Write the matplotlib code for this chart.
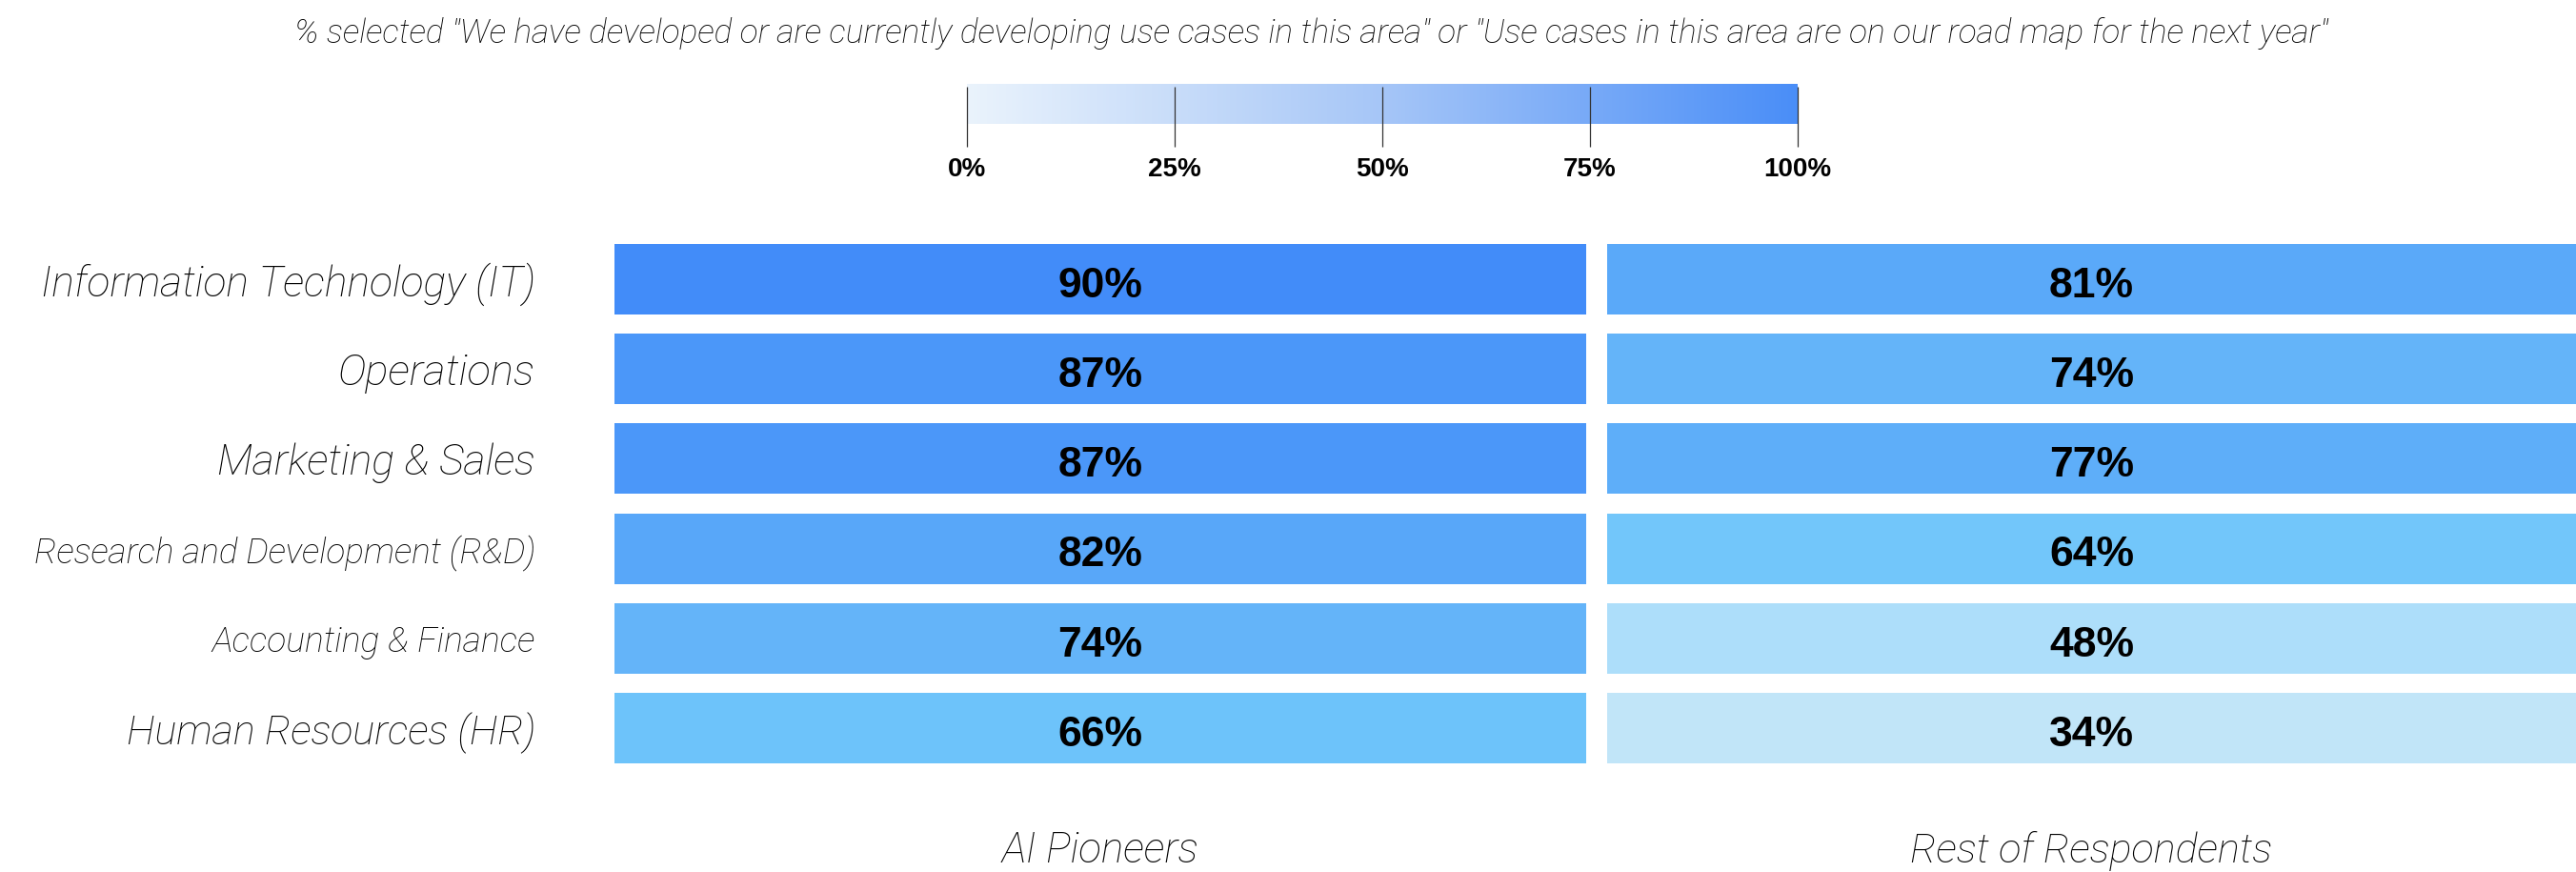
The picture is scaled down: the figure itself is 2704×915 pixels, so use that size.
import numpy as np
import matplotlib
matplotlib.use("Agg")
import matplotlib.pyplot as plt
from matplotlib.colors import LinearSegmentedColormap, Normalize
from matplotlib.transforms import blended_transform_factory

# ---- data -----------------------------------------------------------------
title = ('% selected "We have developed or are currently developing use cases in this area" '
         'or "Use cases in this area are on our road map for the next year"')
functions = ["Information Technology (IT)", "Operations", "Marketing & Sales",
             "Research and Development (R&D)", "Accounting & Finance",
             "Human Resources (HR)"]
groups = ["AI Pioneers", "Rest of Respondents"]
ai_pioneers = [90, 87, 87, 82, 74, 66]
rest_of_respondents = [81, 74, 77, 64, 48, 34]
scale_ticks = [0, 25, 50, 75, 100]

# ---- styling ----------------------------------------------------------------
W, H, DPI = 2704, 915, 100
LIGHT = dict(family=["Roboto", "DejaVu Sans"], style="italic", weight="light")
BOLD = dict(family=["Liberation Sans", "DejaVu Sans"], weight="bold")
TEXT_COLOR = "#000000"

cell_nodes = [(30, "#C8E8F8"), (34, "#C1E5F8"), (48, "#ADDEFA"), (65, "#6EC5FA"),
              (74, "#64B4F9"), (77, "#5EAEF9"), (81.5, "#5AA9F9"), (87, "#4B97F9"),
              (90, "#428CF9"), (100, "#3A80F8")]
cell_norm = Normalize(30, 100)
cell_cmap = LinearSegmentedColormap.from_list(
    "cells", [(float(cell_norm(v)), c) for v, c in cell_nodes])
scale_cmap = LinearSegmentedColormap.from_list(
    "scale", [(0.0, "#EAF3FC"), (0.5, "#A6C6F7"), (1.0, "#4A8EF8")])

fig = plt.figure(figsize=(W / DPI, H / DPI), dpi=DPI)
renderer = fig.canvas.get_renderer()


def px_axes(x0, y0, x1, y1):
    """Axes from a pixel box measured from the top-left corner."""
    return fig.add_axes([x0 / W, 1 - y1 / H, (x1 - x0) / W, (y1 - y0) / H])


def fit_width(txt, target_px):
    w = txt.get_window_extent(renderer).width
    txt.set_fontsize(txt.get_fontsize() * target_px / w)


# ---- title ------------------------------------------------------------------
t = fig.text(1376 / W, 1 - 45 / H, title, ha="center", va="baseline",
             fontsize=26, color=TEXT_COLOR, **LIGHT)
fit_width(t, 2132)

# ---- colour scale -----------------------------------------------------------
cax = px_axes(1015, 88, 1887, 130)
cax.imshow(np.linspace(0, 100, 512)[None, :], cmap=scale_cmap, aspect="auto",
           extent=[0, 100, 0, 1], vmin=0, vmax=100)
cax.set_xlim(0, 100)
cax.set_ylim(0, 1)
cax.vlines(scale_ticks, -0.571, 0.929, color="#333333", lw=0.9, clip_on=False)
cax.set_xticks(scale_ticks, [f"{v}%" for v in scale_ticks])
cax.set_yticks([])
cax.tick_params(axis="x", length=0, pad=25)
for lab in cax.get_xticklabels():
    lab.set_fontsize(20)
    lab.set_fontfamily(BOLD["family"])
    lab.set_fontweight("bold")
for s in cax.spines.values():
    s.set_visible(False)

# ---- heat columns -------------------------------------------------------------
row_h = 74 / 94.2
label_widths = [520, 207, 334, 526, 339, 429]
group_widths = [207, 380]
columns = [(ai_pioneers, (645, 1665)), (rest_of_respondents, (1687, 2704))]
y = np.arange(len(functions))

for k, (values, (x0, x1)) in enumerate(columns):
    ax = px_axes(x0, 245.9, x1, 811.1)
    ax.barh(y, 1, height=row_h, left=0,
            color=[cell_cmap(cell_norm(v)) for v in values])
    ax.set_xlim(0, 1)
    ax.set_ylim(len(functions) - 0.5, -0.5)
    trans = blended_transform_factory(ax.transAxes, ax.transData)
    for yi, v in zip(y, values):
        ax.text(0.5, yi + 0.2, f"{v}%", transform=trans, ha="center",
                va="baseline", fontsize=32, color="black", **BOLD)
    g = ax.text(0.5, -0.166, groups[k], transform=ax.transAxes, ha="center",
                va="baseline", fontsize=30, color=TEXT_COLOR, **LIGHT)
    fit_width(g, group_widths[k])
    ax.set_xticks([])
    if k == 0:
        ax.set_yticks(y, functions)
        ax.tick_params(axis="y", length=0, pad=59.8)
        for lab, wpx in zip(ax.get_yticklabels(), label_widths):
            lab.set_fontfamily(LIGHT["family"])
            lab.set_fontstyle(LIGHT["style"])
            lab.set_fontweight(LIGHT["weight"])
            lab.set_color(TEXT_COLOR)
            lab.set_fontsize(30)
            fit_width(lab, wpx)
    else:
        ax.set_yticks([])
    for s in ax.spines.values():
        s.set_visible(False)

fig.savefig("out.png", dpi=DPI)
